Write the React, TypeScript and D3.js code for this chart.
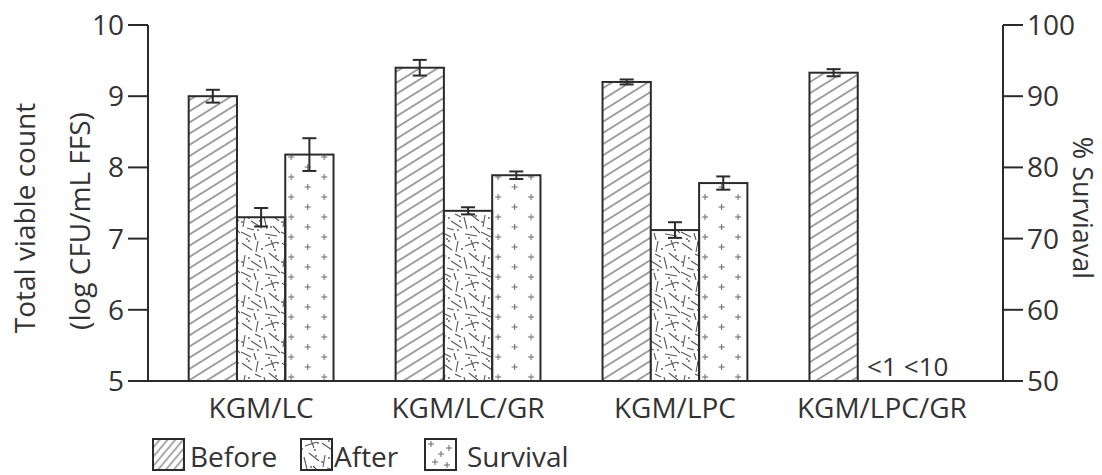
import React, { useEffect } from "react";
import * as d3 from "d3";

const categories = ["KGM/LC", "KGM/LC/GR", "KGM/LPC", "KGM/LPC/GR"];
const beforeVals = [9.0, 9.4, 9.2, 9.33];
const beforeErr = [0.09, 0.11, 0.035, 0.05];
const afterVals: (number | null)[] = [7.3, 7.39, 7.12, null];
const afterErr: (number | null)[] = [0.13, 0.05, 0.11, null];
const survivalVals: (number | null)[] = [81.8, 78.9, 77.8, null];
const survivalErr: (number | null)[] = [2.3, 0.53, 0.93, null];
const missingLabels = ["<1", "<10"];
const leftTicks = [5, 6, 7, 8, 9, 10];
const rightTicks = [50, 60, 70, 80, 90, 100];
const legendItems = ["Before", "After", "Survival"];

const W = 1102;
const H = 475;
const X0 = 148;
const X1 = 1003;
const YB = 381;
const YT = 25;
const INK = "#2b2b2b";
const FONT = "'Open Sans', sans-serif";

// confetti pattern design for "After"
const confettiSegs = [
  [2, 3, 12, 10], [18, 1, 16, 12], [25, 6, 37, 2], [29, 13, 39, 21], [5, 15, 3, 27],
  [11, 21, 22, 28], [24, 17, 27, 29], [1, 32, 11, 37], [14, 33, 16, 40], [25, 34, 37, 36],
  [33, 26, 40, 33], [7, 28, 14, 30], [31, 0, 34, 8], [15, 14, 21, 17],
];
const confettiDots = [[9, 1], [22, 9], [35, 10], [2, 22], [18, 30], [31, 27], [7, 39], [38, 3], [20, 21], [29, 38], [9, 18], [36, 16]];

export default function App() {
  const y = d3.scaleLinear().domain([5, 10]).range([YB, YT]);
  const yr = d3.scaleLinear().domain([50, 100]).range([YB, YT]);
  const x = d3.scaleBand<string>().domain(categories).range([168, 975]).paddingInner(0.3).paddingOuter(0.1);
  const bw = x.bandwidth() / 3;

  useEffect(() => {
    document.body.style.margin = "0";
  }, []);

  const errBar = (cx: number, yTop: number, yBot: number, key: string) => (
    <g key={key} stroke={INK} strokeWidth={2}>
      <line x1={cx} x2={cx} y1={yTop} y2={yBot} />
      <line x1={cx - 7} x2={cx + 7} y1={yTop} y2={yTop} />
      <line x1={cx - 7} x2={cx + 7} y1={yBot} y2={yBot} />
    </g>
  );

  const plus = (px: number, py: number, k: string) => (
    <g key={k}>
      <line x1={px - 3} x2={px + 3} y1={py} y2={py} />
      <line x1={px} x2={px} y1={py - 3} y2={py + 3} />
    </g>
  );

  const bars: React.ReactNode[] = [];
  const patterns: React.ReactNode[] = [];
  categories.forEach((c, i) => {
    const gx = x(c)!;
    const by = y(beforeVals[i]);
    bars.push(
      <rect key={"b" + i} x={gx} y={by} width={bw} height={YB - by} fill="url(#hatch)" stroke={INK} strokeWidth={2} />
    );
    bars.push(errBar(gx + bw / 2, y(beforeVals[i] + beforeErr[i]), y(beforeVals[i] - beforeErr[i]), "be" + i));
    const av = afterVals[i];
    if (av != null) {
      const ay = y(av);
      bars.push(
        <rect key={"a" + i} x={gx + bw} y={ay} width={bw} height={YB - ay} fill="url(#confetti)" stroke={INK} strokeWidth={2} />
      );
      bars.push(errBar(gx + 1.5 * bw, y(av + (afterErr[i] as number)), y(av - (afterErr[i] as number)), "ae" + i));
    } else {
      bars.push(
        <text key={"am" + i} x={gx + 1.5 * bw} y={376} textAnchor="middle" fontSize={26} fill="#333" fontFamily={FONT}>
          {missingLabels[0]}
        </text>
      );
    }
    const sv = survivalVals[i];
    if (sv != null) {
      const sy = yr(sv);
      const pid = "plus" + i;
      patterns.push(
        <pattern key={pid} id={pid} patternUnits="userSpaceOnUse" x={gx + 2 * bw + 6} y={YB - 4} width={33} height={20}>
          <g stroke="#666" strokeWidth={1}>
            {plus(0, 0, "p1")}
            {plus(33, 0, "p2")}
            {plus(0, 20, "p3")}
            {plus(33, 20, "p4")}
            {plus(16.5, 10, "p5")}
          </g>
        </pattern>
      );
      bars.push(
        <rect key={"s" + i} x={gx + 2 * bw} y={sy} width={bw} height={YB - sy} fill={`url(#${pid})`} stroke={INK} strokeWidth={2} />
      );
      bars.push(errBar(gx + 2.5 * bw, yr(sv + (survivalErr[i] as number)), yr(sv - (survivalErr[i] as number)), "se" + i));
    } else {
      bars.push(
        <text key={"sm" + i} x={gx + 2.5 * bw - 4} y={376} textAnchor="middle" fontSize={26} fill="#333" fontFamily={FONT}>
          {missingLabels[1]}
        </text>
      );
    }
  });

  const legendX = [153, 301, 425];
  const legendFills = ["url(#hatchL)", "url(#confetti)", "url(#plusL)"];

  return (
    <svg width={W} height={H} style={{ position: "absolute", left: 0, top: 0, background: "#fff" }}>
      <defs>
        <pattern id="hatch" patternUnits="userSpaceOnUse" width={20} height={9.5} patternTransform="rotate(-32)">
          <rect width={20} height={9.5} fill="#fff" />
          <line x1={0} x2={20} y1={4.75} y2={4.75} stroke="#555" strokeWidth={1.1} />
        </pattern>
        <pattern id="hatchL" patternUnits="userSpaceOnUse" width={20} height={6} patternTransform="rotate(-50)">
          <rect width={20} height={6} fill="#fff" />
          <line x1={0} x2={20} y1={3} y2={3} stroke="#555" strokeWidth={1} />
        </pattern>
        <pattern id="confetti" patternUnits="userSpaceOnUse" width={40} height={40}>
          <rect width={40} height={40} fill="#fff" />
          <g stroke="#555" strokeWidth={1.1}>
            {confettiSegs.map((s, k) => (
              <line key={k} x1={s[0]} y1={s[1]} x2={s[2]} y2={s[3]} />
            ))}
          </g>
          {confettiDots.map((d, k) => (
            <circle key={k} cx={d[0]} cy={d[1]} r={0.9} fill="#555" />
          ))}
        </pattern>
        <pattern id="plusL" patternUnits="userSpaceOnUse" x={425} y={439} width={31} height={31}>
          <rect width={31} height={31} fill="#fff" />
          <g stroke="#666" strokeWidth={1}>
            {plus(6, 5, "l1")}
            {plus(24, 9, "l2")}
            {plus(16, 15, "l3")}
            {plus(10, 23, "l4")}
            {plus(22, 26, "l5")}
          </g>
        </pattern>
        {patterns}
      </defs>

      {bars}

      <g stroke={INK} strokeWidth={2} fill="none">
        <line x1={X0} x2={X0} y1={YT} y2={YB} />
        <line x1={X1} x2={X1} y1={YT} y2={YB} />
        <line x1={X0} x2={X1} y1={YB} y2={YB} />
        {leftTicks.map((t) => (
          <line key={"lt" + t} x1={X0 - 20} x2={X0} y1={y(t)} y2={y(t)} />
        ))}
        {rightTicks.map((t) => (
          <line key={"rt" + t} x1={X1} x2={X1 + 20} y1={yr(t)} y2={yr(t)} />
        ))}
      </g>
      <g fontFamily={FONT} fontSize={28} fill="#333">
        {leftTicks.map((t) => (
          <text key={"ll" + t} x={124} y={y(t)} dy="0.36em" textAnchor="end">
            {t}
          </text>
        ))}
        {rightTicks.map((t) => (
          <text key={"rl" + t} x={1027} y={yr(t)} dy="0.36em" textAnchor="start">
            {t}
          </text>
        ))}
        {categories.map((c) => (
          <text key={"c" + c} x={x(c)! + x.bandwidth() / 2} y={418} textAnchor="middle">
            {c}
          </text>
        ))}
        <text transform="translate(35,218) rotate(-90)" textAnchor="middle">Total viable count</text>
        <text transform="translate(90,221) rotate(-90)" textAnchor="middle">(log CFU/mL FFS)</text>
        <text transform="translate(1073,208) rotate(90)" textAnchor="middle" fontSize={27}>% Surviaval</text>
      </g>

      <g fontFamily={FONT} fontSize={28} fill="#333">
        {legendItems.map((l, k) => (
          <g key={l}>
            <rect x={legendX[k]} y={439} width={31} height={31} fill={legendFills[k]} stroke={INK} strokeWidth={2} />
            <text x={legendX[k] + (k === 1 ? 33 : k === 0 ? 37 : 42)} y={467}>
              {l}
            </text>
          </g>
        ))}
      </g>
    </svg>
  );
}
